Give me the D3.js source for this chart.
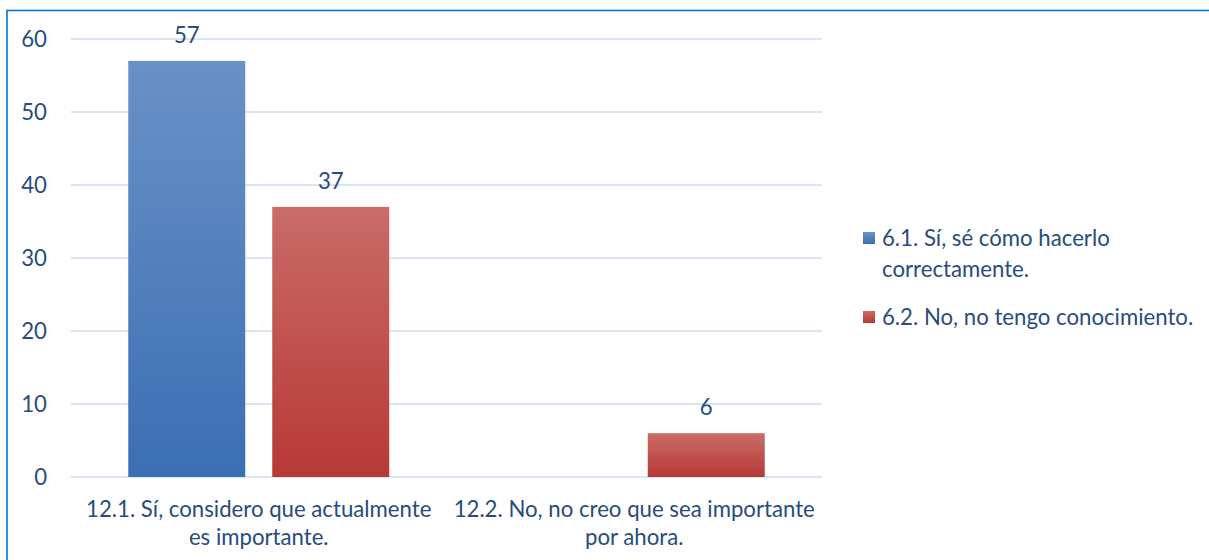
<!DOCTYPE html>
<html><head><meta charset="utf-8">
<script src="https://cdn.jsdelivr.net/npm/d3@7"></script>
<style>body{margin:0;background:#fff}svg{display:block}text{font-family:Lato,sans-serif;fill:#284C7E}</style>
</head><body>
<script>
const categories = [["12.1. Sí, considero que actualmente","es importante."],["12.2. No, no creo que sea importante","por ahora."]];
const seriesNames = [["6.1. Sí, sé cómo hacerlo","correctamente."],["6.2. No, no tengo conocimiento."]];
const seriesValues = [[57, null],[37, 6]];
const yTicks = [0,10,20,30,40,50,60];

const W=1209,H=560, FS=22.2, TXT="#284C7E";
const svg=d3.select("body").append("svg").attr("width",W).attr("height",H);
const defs=svg.append("defs");
const grads=[["gBlue","#6A91C7","#3B6FB3"],["gRed","#C96C67","#B73936"]];
grads.forEach(([id,c1,c2])=>{const g=defs.append("linearGradient").attr("id",id).attr("x1",0).attr("y1",0).attr("x2",0).attr("y2",1);
g.append("stop").attr("offset","0%").attr("stop-color",c1);g.append("stop").attr("offset","100%").attr("stop-color",c2);});
const fills=["url(#gBlue)","url(#gRed)"];

svg.append("rect").attr("x",7).attr("y",10.5).attr("width",W+20).attr("height",H+20).attr("fill","none").attr("stroke","#0077D4").attr("stroke-width",1.6);

const x0=d3.scaleBand().domain(d3.range(categories.length)).range([71,822]);
const y=d3.scaleLinear().domain([0,60]).range([477,39]);
const barW=117, gap=27;

const grid=svg.append("g");
grid.selectAll("line").data(yTicks).join("line").attr("x1",71).attr("x2",822).attr("y1",d=>y(d)).attr("y2",d=>y(d)).attr("stroke","#DAE4F2").attr("stroke-width",2);

const yAxis=d3.axisLeft(y).tickValues(yTicks).tickSize(0).tickPadding(0);
const ga=svg.append("g").attr("transform","translate(47,0)").call(yAxis);
ga.select(".domain").remove();
ga.selectAll("text").attr("font-size",FS).attr("dy","0.35em").style("font-family","Lato, sans-serif").attr("fill",TXT);

seriesValues.forEach((vals,s)=>{
  vals.forEach((v,c)=>{
    if(v==null)return;
    const cx=x0(c)+x0.bandwidth()/2;
    const bx=cx-gap/2-barW+s*(barW+gap);
    svg.append("rect").attr("x",bx).attr("y",y(v)).attr("width",barW).attr("height",y(0)-y(v)).attr("fill",fills[s]);
    svg.append("text").attr("x",bx+barW/2).attr("y",y(v)-26).attr("dy","0.35em").attr("text-anchor","middle").attr("font-size",FS).text(v);
  });
});

categories.forEach((lines,c)=>{
  const cx=x0(c)+x0.bandwidth()/2;
  lines.forEach((l,i)=>svg.append("text").attr("x",cx).attr("y",509+i*28.5).attr("dy","0.35em").attr("text-anchor","middle").attr("font-size",FS).text(l));
});

const legY=[238,317];
seriesNames.forEach((lines,s)=>{
  svg.append("rect").attr("x",863).attr("y",legY[s]-6).attr("width",12).attr("height",12).attr("fill",fills[s]);
  lines.forEach((l,i)=>svg.append("text").attr("x",882).attr("y",legY[s]+i*31).attr("dy","0.35em").attr("font-size",FS).text(l));
});
</script>
</body></html>
